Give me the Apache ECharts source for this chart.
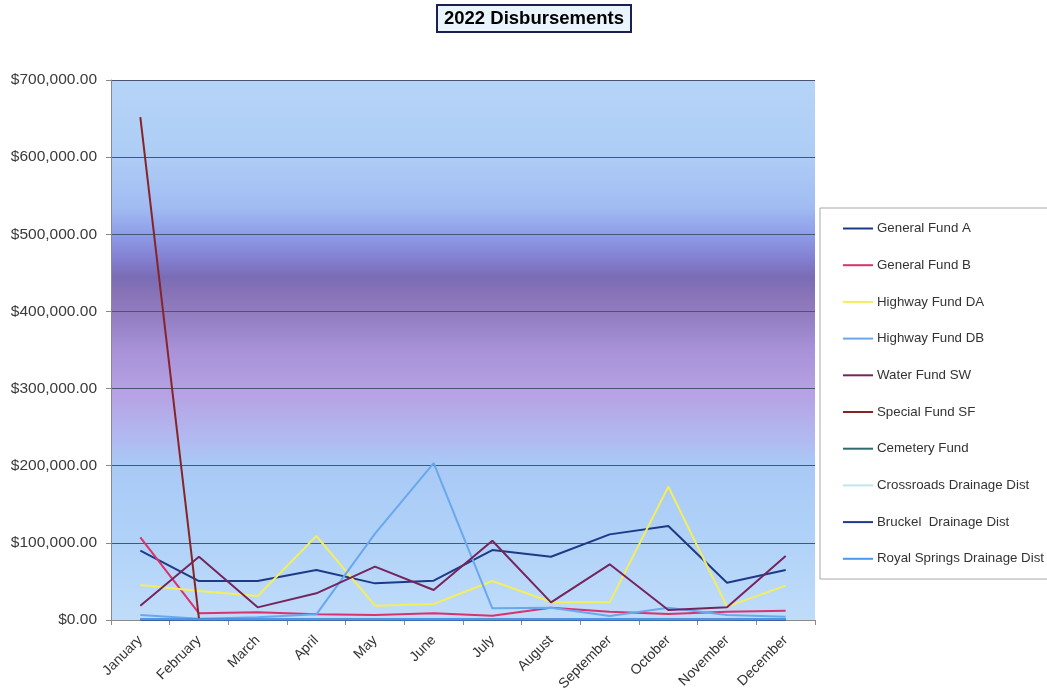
<!DOCTYPE html>
<html>
<head>
<meta charset="utf-8">
<script src="https://cdn.jsdelivr.net/npm/echarts@6/dist/echarts.min.js"></script>
<style>
  html, body { margin: 0; padding: 0; background: #ffffff; }
  #chart { width: 1047px; height: 694px; }
</style>
</head>
<body>
<div id="chart"></div>
<script>
// Monthly disbursements per fund, 2022
const months = ['January', 'February', 'March', 'April', 'May', 'June',
  'July', 'August', 'September', 'October', 'November', 'December'];

const generalFundA   = [89800, 50500, 50500, 64800, 47500, 51000, 90700, 82000, 111000, 121800, 48400, 64800];
const generalFundB   = [107000, 8600, 10000, 7400, 6500, 8600, 5600, 16000, 10800, 7800, 10800, 12000];
const highwayFundDA  = [45400, 37600, 31100, 108900, 18600, 20700, 50500, 23300, 22900, 172800, 17300, 44500];
const highwayFundDB  = [6500, 1500, 3500, 7400, 112000, 203500, 15100, 16000, 5200, 16000, 6500, 4300];
const waterFundSW    = [18600, 82000, 16400, 34600, 69100, 38900, 102800, 22900, 72200, 13000, 16400, 83000];
const specialFundSF  = [652000, 1500, 600, 500, 500, 600, 500, 500, 600, 500, 500, 600];
const cemeteryFund   = [400, 300, 400, 300, 300, 400, 300, 400, 300, 300, 400, 300];
const crossroadsDD   = [200, 200, 200, 200, 200, 200, 200, 200, 200, 200, 200, 200];
const bruckelDD      = [300, 200, 300, 200, 300, 200, 300, 200, 300, 200, 300, 200];
const royalSpringsDD = [1200, 1000, 1200, 1100, 1000, 1200, 1100, 1000, 1200, 1100, 1000, 1200];

const yTicks = [0, 100000, 200000, 300000, 400000, 500000, 600000, 700000];

const seriesDefs = [
  { name: 'General Fund A', data: generalFundA, color: '#1e3a86' },
  { name: 'General Fund B', data: generalFundB, color: '#d8336e' },
  { name: 'Highway Fund DA', data: highwayFundDA, color: '#f4ee5c' },
  { name: 'Highway Fund DB', data: highwayFundDB, color: '#6aa8ee' },
  { name: 'Water Fund SW', data: waterFundSW, color: '#76245e' },
  { name: 'Special Fund SF', data: specialFundSF, color: '#862428' },
  { name: 'Cemetery Fund', data: cemeteryFund, color: '#2e6c6e' },
  { name: 'Crossroads Drainage Dist', data: crossroadsDD, color: '#bfe6ea' },
  { name: 'Bruckel  Drainage Dist', data: bruckelDD, color: '#1c3a8e' },
  { name: 'Royal Springs Drainage Dist', data: royalSpringsDD, color: '#4a98ec' }
];

const FONT = 'Liberation Sans, Arial, sans-serif';

const chart = echarts.init(document.getElementById('chart'), null, { renderer: 'canvas' });

const money = v => '$' + v.toLocaleString('en-US', { minimumFractionDigits: 2, maximumFractionDigits: 2 });

// Plot-area wash: light blue, a purple band through the middle, light blue again
const plotBg = new echarts.graphic.LinearGradient(0, 0, 0, 1, [
  { offset: 0.00, color: '#b6d4f7' },
  { offset: 0.14, color: '#aecdf6' },
  { offset: 0.235, color: '#a2bcf2' },
  { offset: 0.285, color: '#8e9ee8' },
  { offset: 0.33, color: '#8480d2' },
  { offset: 0.365, color: '#7a6cb4' },
  { offset: 0.40, color: '#8a74b8' },
  { offset: 0.45, color: '#9682c6' },
  { offset: 0.50, color: '#a992d8' },
  { offset: 0.58, color: '#b6a2e4' },
  { offset: 0.66, color: '#b2b8ef' },
  { offset: 0.71, color: '#a9c9f6' },
  { offset: 0.85, color: '#b0d2f8' },
  { offset: 1.00, color: '#c0dcfa' }
]);

chart.setOption({
  animation: false,
  backgroundColor: '#ffffff',
  title: {
    text: '2022 Disbursements',
    left: 437,
    top: 5,
    padding: [4, 7, 4, 7],
    backgroundColor: '#eaf4fc',
    borderColor: '#1a2052',
    borderWidth: 2,
    textStyle: {
      fontFamily: FONT,
      fontSize: 18.5,
      fontWeight: 'bold',
      color: '#000000'
    }
  },
  grid: {
    left: 111,
    top: 80,
    right: 232,
    bottom: 74,
    show: true,
    backgroundColor: plotBg,
    borderWidth: 0
  },
  graphic: [{
    type: 'rect',
    shape: { x: 820, y: 208, width: 240, height: 371 },
    style: { fill: '#ffffff', stroke: '#a8a8a8', lineWidth: 1 },
    z: 5
  }],
  legend: {
    orient: 'vertical',
    left: 843,
    top: 222,
    padding: 0,
    icon: 'rect',
    itemWidth: 30,
    itemHeight: 2,
    itemGap: 23.7,
    z: 10,
    textStyle: {
      fontFamily: FONT,
      fontSize: 13.3,
      color: '#333333',
      padding: [0, 0, 0, -1]
    },
    data: seriesDefs.map(s => s.name)
  },
  xAxis: {
    type: 'category',
    data: months,
    boundaryGap: true,
    axisLine: { show: true, lineStyle: { color: '#8a8a8a', width: 1 } },
    axisTick: { show: true, alignWithLabel: false, length: 5, lineStyle: { color: '#8a8a8a' } },
    axisLabel: {
      rotate: 45,
      interval: 0,
      margin: 18,
      padding: [22, 0, 0, 0],
      fontFamily: FONT,
      fontSize: 14,
      color: '#333333'
    },
    splitLine: { show: false }
  },
  yAxis: {
    type: 'value',
    min: yTicks[0],
    max: yTicks[yTicks.length - 1],
    interval: 100000,
    axisLine: { show: true, lineStyle: { color: '#8a8a8a', width: 1 } },
    axisTick: { show: true, length: 5, lineStyle: { color: '#8a8a8a' } },
    axisLabel: {
      formatter: money,
      margin: 14,
      fontFamily: FONT,
      fontSize: 15.5,
      color: '#3a3a3a'
    },
    splitLine: { show: true, lineStyle: { color: '#4c5474', width: 1 } }
  },
  series: seriesDefs.map(s => ({
    name: s.name,
    type: 'line',
    data: s.data,
    showSymbol: false,
    symbol: 'none',
    color: s.color,
    lineStyle: { color: s.color, width: 2 },
    emphasis: { disabled: true }
  }))
});
</script>
</body>
</html>
